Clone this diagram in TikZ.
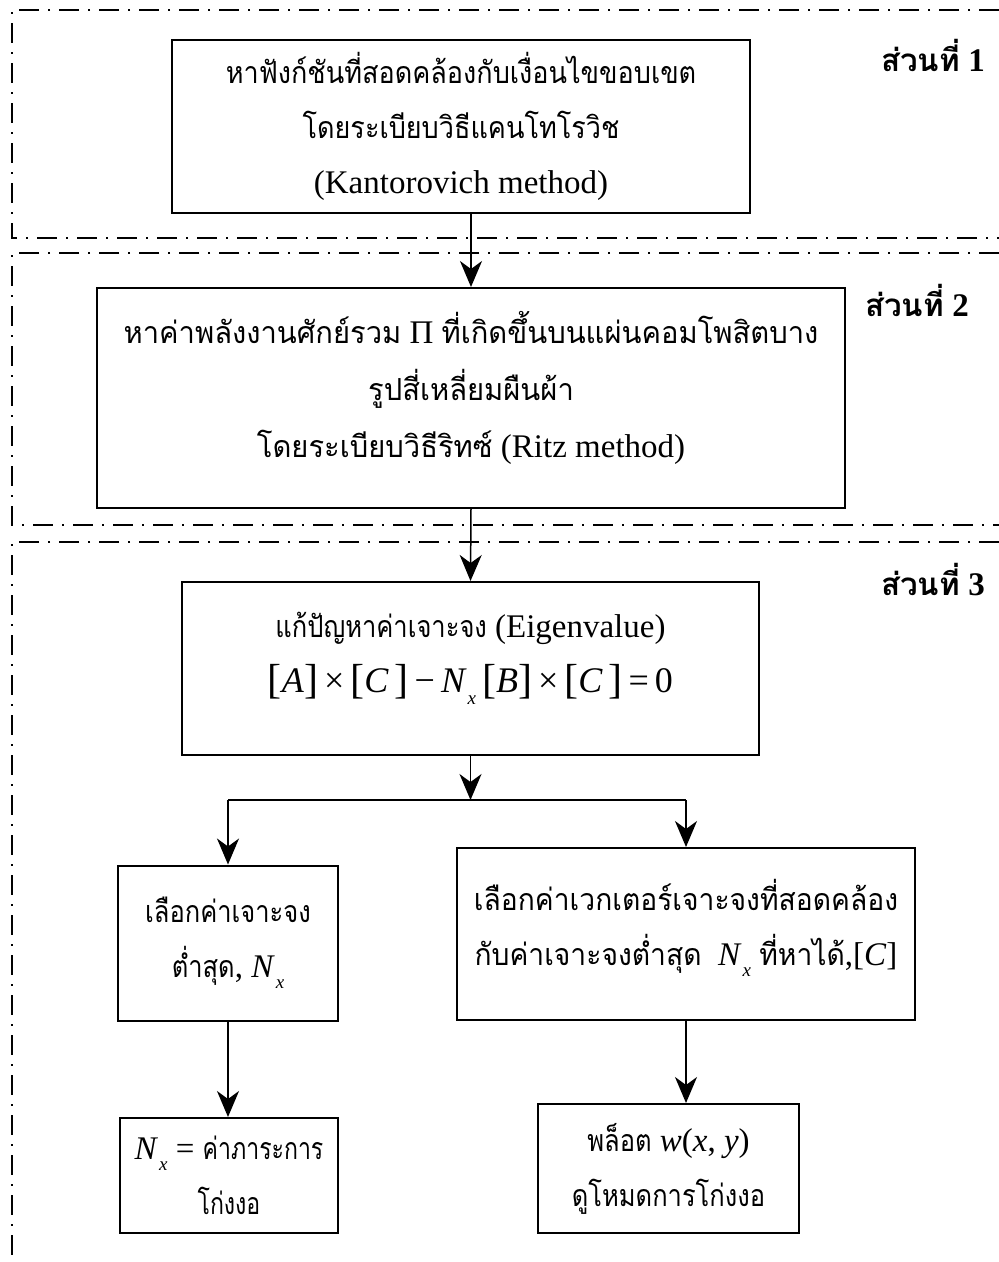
\documentclass[tikz,border=0pt]{standalone}
\usepackage{fontspec}
\setmainfont{Liberation Serif}
\newfontfamily\thai[Script=Thai,Scale=0.92,FakeStretch=0.84]{Loma}
\newfontfamily\thaiB[Script=Thai,Scale=0.92,FakeStretch=0.89]{Loma}
\newfontfamily\thaiW[Script=Thai,Scale=0.92,FakeStretch=0.96]{Loma}
\newfontfamily\thaiM[Script=Thai,Scale=0.92,FakeStretch=0.93]{Loma}
\newfontfamily\thaiN[Script=Thai,Scale=0.92,FakeStretch=0.76]{Loma}
\newfontfamily\thaiL[Script=Thai,Scale=0.95]{Loma}
\usetikzlibrary{arrows.meta}
\newcommand{\Nx}{\textit{N}\kern1pt\raisebox{-0.32em}{\fontsize{19}{19}\selectfont\textit{x}}}
\newcommand{\bkl}{{\fontsize{42}{42}\selectfont\raisebox{-0.02em}{[}}}
\newcommand{\bkr}{{\fontsize{42}{42}\selectfont\raisebox{-0.02em}{]}}}
\begin{document}
\begin{tikzpicture}[x=1pt,y=-1pt,
  box/.style={draw,line width=2pt,align=center,inner sep=0pt,font=\fontsize{33}{55}\selectfont},
  txt/.style={align=center,inner sep=0pt,font=\fontsize{33}{55}\selectfont},
  arr/.style={line width=1.5pt,-{Stealth[length=26pt,width=22pt,inset=8pt]}},
  conn/.style={line width=1.5pt},
  dd/.style={line width=2.2pt,dash pattern=on 20pt off 9pt on 2pt off 9pt},
  lbl/.style={font=\fontsize{33}{40}\selectfont\bfseries,anchor=center,inner sep=0pt}]
\useasboundingbox (0,0) rectangle (999,1262);
% section frames
\draw[dd] (999,10) -| (12,238) -- (999,238);
\draw[dd] (999,253) -| (12,525) -- (999,525);
\draw[dd] (999,542) -| (12,1262);
% labels
\node[lbl] (s1) at (933,55) {{\thaiL ส่วนที่} 1};
\node[lbl] (s2) at (917,300) {{\thaiL ส่วนที่} 2};
\node[lbl] (s3) at (933,580) {{\thaiL ส่วนที่} 3};
% boxes
\node[box,minimum width=578pt,minimum height=173pt] (b1) at (461,126.5)
  {{\thaiB หาฟังก์ชันที่สอดคล้องกับเงื่อนไขขอบเขต}\\{\thaiB โดยระเบียบวิธีแคนโทโรวิช}\\(Kantorovich method)};
\node[box,minimum width=748pt,minimum height=220pt] (b2) at (471,398) {};
\node[txt,yshift=10pt,font=\fontsize{33}{57}\selectfont] (t2) at (b2.center)
  {{\thaiW หาค่าพลังงานศักย์รวม} Π {\thaiW ที่เกิดขึ้นบนแผ่นคอมโพสิตบาง}\\{\thaiW รูปสี่เหลี่ยมผืนผ้า}\\{\thaiW โดยระเบียบวิธีริทซ์} (Ritz method)};
\node[box,minimum width=577pt,minimum height=173pt] (b3) at (470.5,668.5) {};
\node[txt,yshift=10pt] (t3) at (b3.center)
  {{\thai แก้ปัญหาค่าเจาะจง} (Eigenvalue)\\\fontsize{36}{40}\selectfont\bkl\textit{A}\bkr\,×\,\bkl\textit{C}\,\bkr\,−\,\Nx\,\bkl\textit{B}\bkr\,×\,\bkl\textit{C}\,\bkr\,=\,0};
\node[box,minimum width=220pt,minimum height=155pt] (b4) at (228,943)
  {{\thai เลือกค่าเจาะจง}\\{\thai ต่ำสุด}, \Nx};
\node[box,minimum width=458pt,minimum height=172pt] (b5) at (686,934) {};
\node[txt,yshift=6pt] (t5) at (b5.center)
  {{\thaiM เลือกค่าเวกเตอร์เจาะจงที่สอดคล้อง}\\{\thaiM กับค่าเจาะจงต่ำสุด}\ \ \Nx{} {\thaiM ที่หาได้},[\textit{C}]};
\node[box,minimum width=218pt,minimum height=115pt] (b6) at (229,1175.5)
  {\Nx{} = {\thaiN ค่าภาระการ}\\{\thaiN โก่งงอ}};
\node[box,minimum width=261pt,minimum height=129pt] (b7) at (668.5,1168.5)
  {{\thai พล็อต} \textit{w}(\textit{x}, \textit{y})\\{\thai ดูโหมดการโก่งงอ}};
% connectors
\coordinate (split) at (470.5,800);
\draw[arr] (b1.south -| b2.north) -- (b2.north);
\draw[arr] (b2.south) -- (b3.north);
\draw[arr] (b3.south) -- (split);
\draw[conn] (b4.north |- split) -- (b5.north |- split);
\draw[arr] (b4.north |- split) -- (b4.north);
\draw[arr] (b5.north |- split) -- (b5.north);
\draw[arr] (b4.south) -- (b4.south |- b6.north);
\draw[arr] (b5.south) -- (b5.south |- b7.north);
\end{tikzpicture}
\end{document}
